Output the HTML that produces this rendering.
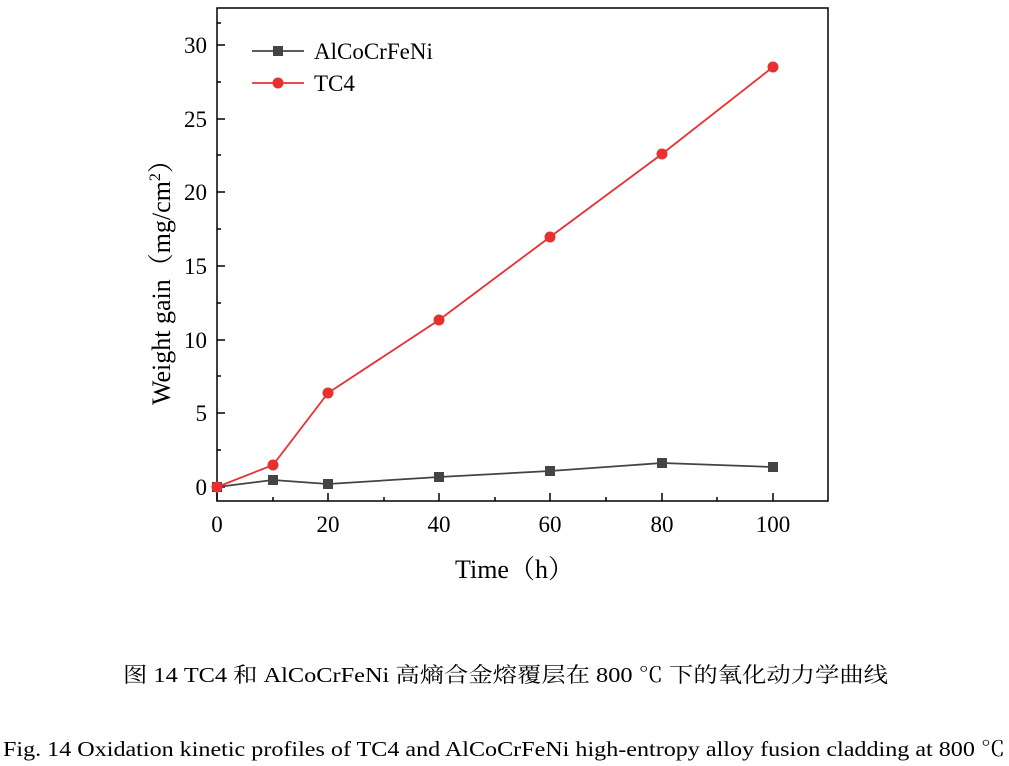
<html><head><style>body{margin:0;background:#fff;width:1009px;height:766px;overflow:hidden}</style></head><body>
<svg width="1009" height="766" xmlns="http://www.w3.org/2000/svg" font-family="Liberation Serif, Noto Serif CJK SC, serif">
<rect x="217" y="8" width="611" height="493" fill="none" stroke="#000" stroke-width="1.5"/>
<g stroke="#000" stroke-width="1.5">
<path d="M217 487h8M217 413h8M217 340h8M217 266h8M217 192h8M217 119h8M217 45h8"/>
<path d="M217 450h4M217 376h4M217 303h4M217 229h4M217 155h4M217 82h4M217 23h4"/>
<path d="M217 501v-8M328 501v-8M439 501v-8M550 501v-8M662 501v-8M773 501v-8"/>
<path d="M273 501v-4M384 501v-4M495 501v-4M606 501v-4M717 501v-4"/>
</g>
<g font-size="23" text-anchor="end"><text x="207" y="495">0</text><text x="207" y="421">5</text><text x="207" y="348">10</text><text x="207" y="274">15</text><text x="207" y="200">20</text><text x="207" y="127">25</text><text x="207" y="53">30</text></g>
<g font-size="23" text-anchor="middle"><text x="217" y="532">0</text><text x="328" y="532">20</text><text x="439" y="532">40</text><text x="550" y="532">60</text><text x="662" y="532">80</text><text x="773" y="532">100</text></g>
<text x="455" y="578" font-size="26">Time（h）</text>
<text transform="translate(170,405) rotate(-90)" font-size="26">Weight gain（mg/cm<tspan font-size="16" dy="-10">2</tspan><tspan dy="10">）</tspan></text>
<polyline points="217,487 273,480 328,484 439,477 550,471 662,463 773,467" fill="none" stroke="#444" stroke-width="1.8"/>
<g fill="#444"><rect x="212" y="482" width="10" height="10"/><rect x="268" y="475" width="10" height="10"/><rect x="323" y="479" width="10" height="10"/><rect x="434" y="472" width="10" height="10"/><rect x="545" y="466" width="10" height="10"/><rect x="657" y="458" width="10" height="10"/><rect x="768" y="462" width="10" height="10"/></g>
<polyline points="217,487 273,465 328,393 439,320 550,237 662,154 773,67" fill="none" stroke="#e83030" stroke-width="1.8"/>
<g fill="#e83030"><circle cx="217" cy="487" r="5.5"/><circle cx="273" cy="465" r="5.5"/><circle cx="328" cy="393" r="5.5"/><circle cx="439" cy="320" r="5.5"/><circle cx="550" cy="237" r="5.5"/><circle cx="662" cy="154" r="5.5"/><circle cx="773" cy="67" r="5.5"/></g>
<line x1="252" y1="51" x2="304" y2="51" stroke="#444" stroke-width="1.8"/><rect x="273" y="46" width="10" height="10" fill="#444"/>
<text x="314" y="59" font-size="23">AlCoCrFeNi</text>
<line x1="252" y1="83" x2="304" y2="83" stroke="#e83030" stroke-width="1.8"/><circle cx="278" cy="83" r="5.5" fill="#e83030"/>
<text x="314" y="91" font-size="23">TC4</text>
<text x="123" y="682" font-size="21" textLength="765" lengthAdjust="spacingAndGlyphs">图 14 TC4 和 AlCoCrFeNi 高熵合金熔覆层在 800 ℃ 下的氧化动力学曲线</text>
<text x="3" y="756" font-size="21" textLength="1002" lengthAdjust="spacingAndGlyphs">Fig. 14 Oxidation kinetic profiles of TC4 and AlCoCrFeNi high-entropy alloy fusion cladding at 800 ℃</text>
</svg></body></html>
